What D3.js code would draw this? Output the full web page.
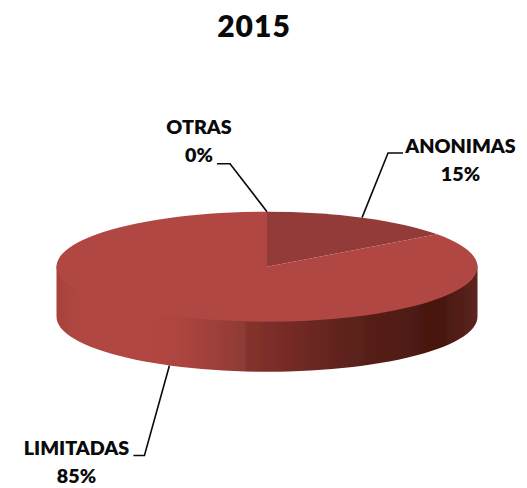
<!DOCTYPE html>
<html><head><meta charset="utf-8">
<script src="https://cdn.jsdelivr.net/npm/d3@7"></script>
<style>html,body{margin:0;padding:0;background:#fff}svg{display:block}text{font-family:Lato,"Open Sans",sans-serif;font-weight:800;fill:#0a0a0a}</style>
</head><body><svg id="c" width="527" height="488"></svg>
<script>
const chartTitle = "2015";
const categories = ["ANONIMAS", "LIMITADAS", "OTRAS"];
const values = [15, 85, 0];
const percentLabels = ["15%", "85%", "0%"];
const sliceColors = ["#933b37", "#b14743", "#b14743"];
const sideStops = [[0,"#a8423d"],[0.06,"#b14642"],[0.25,"#b14541"],[0.32,"#a9433e"],[0.448,"#8e3a35"],[0.452,"#85322d"],[0.7,"#5c211b"],[0.91,"#47170f"],[1,"#5d2420"]];

const W = 527, H = 488, cx = 267, cy = 266.7, rx = 210.5, ry = 55, depth = 50;
const svg = d3.select("#c");
const defs = svg.append("defs");
const grad = defs.append("linearGradient").attr("id","side").attr("gradientUnits","userSpaceOnUse")
  .attr("x1",cx-rx).attr("x2",cx+rx).attr("y1",0).attr("y2",0);
grad.selectAll("stop").data(sideStops).join("stop").attr("offset",d=>d[0]).attr("stop-color",d=>d[1]);
const softFilter = defs.append("filter").attr("id","soft").attr("x","-5%").attr("y","-5%").attr("width","110%").attr("height","110%");
softFilter.append("feGaussianBlur").attr("stdDeviation",0.5);

const pie = d3.pie().sort(null).value(d=>d)(values);
const arc = d3.arc().innerRadius(0).outerRadius(rx);
const proj = a => [cx + rx*Math.sin(a), cy - ry*Math.cos(a)];

const body = svg.append("g").attr("filter","url(#soft)");

// side wall: lower half of the rim, extruded
const frontAngles = d3.range(0, 181, 3).map(d=>(90+d)*Math.PI/180);
const wall = d3.area().x(a=>proj(a)[0]).y0(a=>proj(a)[1]-3).y1(a=>proj(a)[1]+depth).curve(d3.curveLinear);
body.append("path").attr("d",wall(frontAngles)).attr("fill","url(#side)");

// top face
const topFace = body.append("g").attr("transform",`translate(${cx},${cy}) scale(1,${ry/rx})`);
topFace.selectAll("path").data(pie).join("path").attr("d",arc).attr("fill",(d,i)=>sliceColors[i]);

// leaders: anchor comes from the slice angle, then elbow and tail offsets
const leaders = [
  {i:0, t:0.497, depthAt:0, elbow:[26,-64.6], tail:15},
  {i:1, t:0.502, depthAt:1, elbow:[-25,90], tail:-11},
  {i:2, t:0, depthAt:0, elbow:[-37,-48], tail:-13}
];
const line = d3.line();
leaders.forEach(l=>{
  const s = pie[l.i];
  const a = s.startAngle + (s.endAngle-s.startAngle)*l.t;
  const p = proj(a); p[1] += l.depthAt*depth;
  const e = [p[0]+l.elbow[0], p[1]+l.elbow[1]];
  l.end = [e[0]+l.tail, e[1]];
  svg.append("path").attr("d",line([p,e,l.end])).attr("fill","none").attr("stroke","#0a0a0a").attr("stroke-width",1.6);
});

// texts
svg.append("text").attr("x",254).attr("y",37).attr("text-anchor","middle").attr("font-size",30).attr("letter-spacing",1).text(chartTitle);
const labelPos = [[460.5,153],[76.5,455],[199,134]];
categories.forEach((c,i)=>{
  const g = svg.append("text").attr("text-anchor","middle").attr("font-size",19.7);
  g.append("tspan").attr("x",labelPos[i][0]).attr("y",labelPos[i][1]).text(c);
  g.append("tspan").attr("x",labelPos[i][0]).attr("y",labelPos[i][1]+28).text(percentLabels[i]);
});
</script></body></html>
